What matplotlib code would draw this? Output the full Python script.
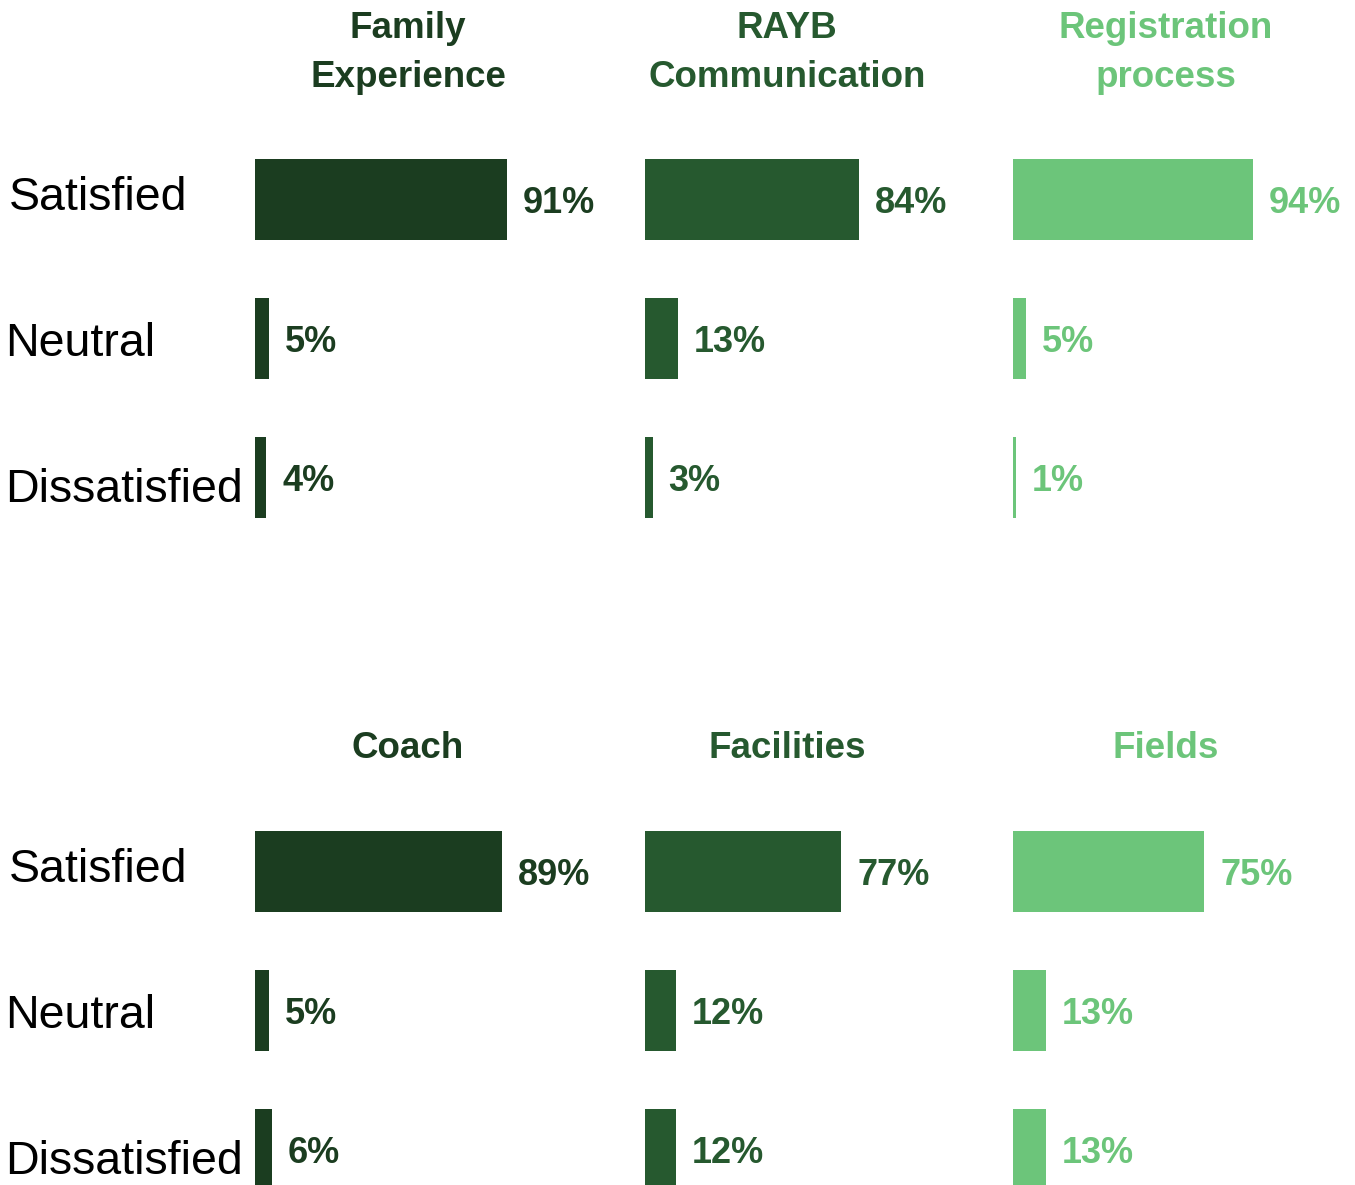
import matplotlib
matplotlib.use("Agg")
import matplotlib.pyplot as plt
from matplotlib.transforms import ScaledTranslation, blended_transform_factory

plt.rcParams['font.family'] = ['Liberation Sans', 'DejaVu Sans']

categories = ["Satisfied", "Neutral", "Dissatisfied"]
titles = ["Family\nExperience", "RAYB\nCommunication", "Registration\nprocess",
          "Coach", "Facilities", "Fields"]
values = [
    [91, 5, 4],
    [84, 13, 3],
    [94, 5, 1],
    [89, 5, 6],
    [77, 12, 12],
    [75, 13, 13],
]
colors = ["#1b3d20", "#26592f", "#6cc57a"]

W, H = 1355, 1185
fig = plt.figure(figsize=(W / 100, H / 100), dpi=100)

col_left = [255, 645, 1013]     # px
col_width = [277, 255, 255]     # px for 0..100
row_top = [130, 802]            # px, top of axes
row_h = 417
title_cx = [408, 787, 1166]
title_y = [53, 749]
label_dy = [-1, 5, 13]          # px offsets for category labels
label_x = [9, 5, 5]

for i in range(6):
    r, c = divmod(i, 3)
    left = col_left[c] / W
    bottom = 1 - (row_top[r] + row_h) / H
    ax = fig.add_axes([left, bottom, col_width[c] / W, row_h / H])
    ax.set_xlim(0, 100)
    ax.set_ylim(2.5, -0.5)
    ax.axis("off")
    ypos = list(range(len(categories)))
    ax.barh(ypos, values[i], height=0.583, color=colors[c], clip_on=False)
    for y, v in zip(ypos, values[i]):
        ax.annotate(f"{v}%", xy=(v, y), xytext=(11.5, -3), textcoords="offset points",
                    ha="left", va="center", fontsize=26, fontweight="bold",
                    color=colors[c], annotation_clip=False)
    if c == 0:
        tr = blended_transform_factory(fig.transFigure, ax.transData)
        for y, lab, dy, lx in zip(ypos, categories, label_dy, label_x):
            fig.text(lx / W, y, lab, fontsize=33.5, color="black", ha="left", va="center",
                     transform=tr + ScaledTranslation(0, -dy / 100, fig.dpi_scale_trans))
    fig.text(title_cx[c] / W, 1 - title_y[r] / H, titles[i], ha="center", va="center",
             fontsize=26.5, fontweight="bold", color=colors[c], linespacing=1.5)

fig.savefig("out.png", dpi=100)
